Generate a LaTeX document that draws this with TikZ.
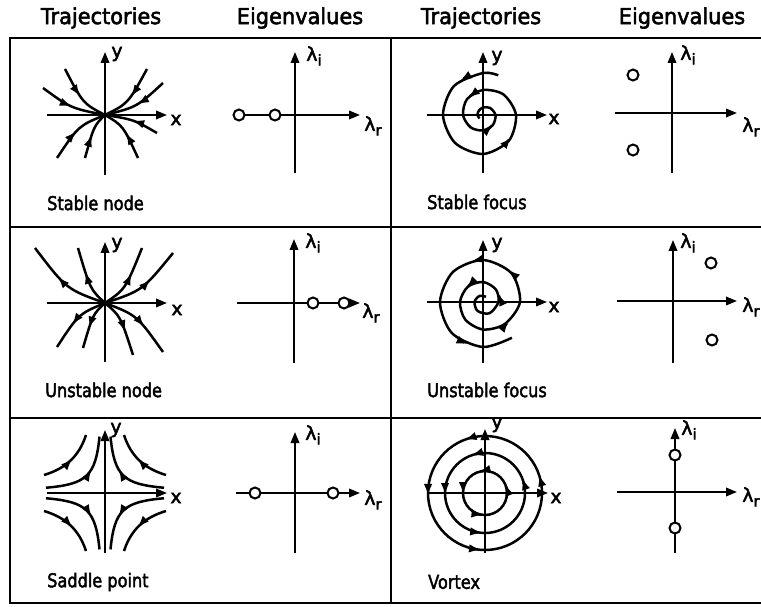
\documentclass[tikz,border=0pt]{standalone}
\usepackage{fontspec}
\setmainfont[FakeBold=2.4]{DejaVu Sans}
\usetikzlibrary{arrows.meta,decorations.markings}
\newcommand\lamsub[1]{λ\raisebox{-0.45ex}{\fontsize{15}{15}\selectfont #1}}
\newcommand\condtext[2]{\scalebox{#1}[1]{#2}}
\begin{document}
\begin{tikzpicture}[x=1pt,y=1pt,
  frame/.style={line width=2.3pt},
  axis/.style={line width=2pt,-{Triangle[length=11pt,width=8.5pt]}},
  traj/.style={line width=2.5pt},
  tip/.style={line width=2.5pt,-{Latex[length=12pt,width=8.5pt]}},
  midarrow/.style={traj,postaction={decorate},decoration={markings,mark=at position #1 with {\arrow{Latex[length=12pt,width=8.5pt]}}}},
  eig/.style={circle,draw,line width=2pt,fill=white,inner sep=0pt,minimum size=11pt},
  hdr/.style={font=\fontsize{22}{26}\selectfont,inner sep=0pt},
  lbl/.style={font=\fontsize{19}{22}\selectfont,anchor=west,inner sep=0pt},
  axl/.style={font=\fontsize{19}{22}\selectfont,inner sep=0pt},
]
\useasboundingbox (0,0) rectangle (761,606);
% headers
\node[hdr] (h1) at (101,588) {\condtext{0.95}{Trajectories}};
\node[hdr] (h2) at (300,588) {\condtext{0.95}{Eigenvalues}};
\node[hdr] (h3) at (481,588) {\condtext{0.95}{Trajectories}};
\node[hdr] (h4) at (682,588) {\condtext{0.95}{Eigenvalues}};
% frame
\draw[frame] (761,568) -- (10,568) -- (10,3) -- (761,3);
\draw[frame] (10,379) -- (761,379);
\draw[frame] (10,188) -- (761,188);
\draw[frame] (391,568) -- (391,3);

% ---------- Stable node
\begin{scope}[shift={(105,491)}]
  \draw[axis] (-58,0) -- (62,0);
  \draw[axis] (0,-60) -- (0,63);
  \node[axl] (c1x) at (71,-5) {x};
  \node[axl] (c1y) at (12,61) {y};
  \foreach \a/\b in {-40/46,-62/27,42/46,58/32,52/-18,33/-43,-20/-43,-48/-43}
    \draw[midarrow=0.5] (\a,\b) .. controls ({0.55*\a},{0.25*\b}) .. (0,0);
\end{scope}
\node[lbl] (l1) at (47,403) {\condtext{0.85}{Stable node}};

% ---------- Eigen 1
\begin{scope}[shift={(295,491)}]
  \draw[axis] (-56,0) -- (65,0);
  \draw[axis] (0,-58) -- (0,63);
  \node[eig] (e1a) at (-56,0) {};
  \node[eig] (e1b) at (-20,0) {};
  \node[axl] (e1i) at (19,59) {\lamsub{i}};
  \node[axl] (e1r) at (78,-11) {\lamsub{r}};
\end{scope}

% ---------- Stable focus
\begin{scope}[shift={(483,491)}]
  \draw[axis] (-56,0) -- (64,0);
  \draw[axis] (0,-58) -- (0,63);
  \node[axl] (c2x) at (71,-4) {x};
  \node[axl] (c2y) at (14,57) {y};
  \draw[traj] plot[smooth] coordinates {(69:42.5) (90:42) (135:41) (180:40) (225:39.5) (270:39) (315:36.5) (360:33) (405:29) (450:25) (495:22.5) (540:20) (585:17.5) (630:15.5) (675:14) (720:12.5) (765:10) (810:7.5) (855:6) (900:5.5) (945:5)};
  \foreach \t/\r in {124/41.2,322/36,491/22.7,675/14}
    \draw[tip] ({\t-6}:\r) -- (\t:\r);
\end{scope}
\node[lbl] (l2) at (427,404) {\condtext{0.85}{Stable focus}};

% ---------- Eigen 2
\begin{scope}[shift={(672,493)}]
  \draw[axis] (-57,0) -- (65,0);
  \draw[axis] (0,-60) -- (0,61);
  \node[eig] (e2a) at (-39,38) {};
  \node[eig] (e2b) at (-39,-37) {};
  \node[axl] (e2i) at (16,58) {\lamsub{i}};
  \node[axl] (e2r) at (79,-14) {\lamsub{r}};
\end{scope}

% ---------- Unstable node
\begin{scope}[shift={(105,303)}]
  \draw[axis] (-58,0) -- (62,0);
  \draw[axis] (0,-59) -- (0,61);
  \node[axl] (c3x) at (72,-7) {x};
  \node[axl] (c3y) at (12,58) {y};
  \foreach \a/\b in {-70/55,-27/55,37/55,68/50,-48/-44,-22/-45,28/-52,58/-49}
    \draw[midarrow=0.6] (0,0) .. controls ({0.55*\a},{0.25*\b}) .. (\a,\b);
\end{scope}
\node[lbl] (l3) at (45,216) {\condtext{0.85}{Unstable node}};

% ---------- Eigen 3
\begin{scope}[shift={(294,303)}]
  \draw[axis] (-57,0) -- (66,0);
  \draw[axis] (0,-60) -- (0,64);
  \node[eig] (e3a) at (19,0) {};
  \node[eig] (e3b) at (50,0) {};
  \node[axl] (e3i) at (19,60) {\lamsub{i}};
  \node[axl] (e3r) at (77,-10) {\lamsub{r}};
\end{scope}

% ---------- Unstable focus
\begin{scope}[shift={(483,304)}]
  \draw[axis] (-56,0) -- (64,0);
  \draw[axis] (0,-61) -- (0,62);
  \node[axl] (c4x) at (71,-5) {x};
  \node[axl] (c4y) at (14,57) {y};
  \draw[traj] plot[smooth] coordinates {(-300:6) (-240:7) (-180:8.5) (-120:10.5) (-60:13) (0:15.5) (45:18) (90:20) (135:21.5) (180:23) (225:25) (270:27.5) (315:31) (360:37) (405:40.5) (450:42) (495:42.5) (540:43) (585:44) (630:45) (669:46)};
  \foreach \t/\r in {28/17,139/21.6,324/32,412/40.8,466/42.2,611/44.6}
    \draw[tip] ({\t-6}:\r) -- (\t:\r);
\end{scope}
\node[lbl] (l4) at (427,216) {\condtext{0.85}{Unstable focus}};

% ---------- Eigen 4
\begin{scope}[shift={(673,305)}]
  \draw[axis] (-56,0) -- (64,0);
  \draw[axis] (0,-62) -- (0,61);
  \node[eig] (e4a) at (38,38) {};
  \node[eig] (e4b) at (39,-39) {};
  \node[axl] (e4i) at (15,58) {\lamsub{i}};
  \node[axl] (e4r) at (78,-6) {\lamsub{r}};
\end{scope}

% ---------- Saddle point
\begin{scope}[shift={(105,113)}]
  \draw[axis] (-58,0) -- (62,0);
  \draw[axis] (0,-60) -- (0,63);
  \node[axl] (c5x) at (71,-5) {x};
  \node[axl] (c5y) at (11,63) {y};
  \foreach \sx/\sy in {-1/1,1/1,-1/-1,1/-1}{
    \begin{scope}[xscale=\sx,yscale=\sy]
      \draw[midarrow=0.55] (61,18) .. controls (39,24.6) and (25.8,37) .. (19,58);
      \draw[midarrow=0.6] (59,5.25) .. controls (19,8.8) and (9.4,16.4) .. (5.5,56.4);
    \end{scope}
  }
\end{scope}
\node[lbl] (l5) at (47,24) {\condtext{0.85}{Saddle point}};

% ---------- Eigen 5
\begin{scope}[shift={(295,113)}]
  \draw[axis] (-59,0) -- (65,0);
  \draw[axis] (0,-60) -- (0,61);
  \node[eig] (e5a) at (-40,0) {};
  \node[eig] (e5b) at (38,0) {};
  \node[axl] (e5i) at (18,58) {\lamsub{i}};
  \node[axl] (e5r) at (78,-7) {\lamsub{r}};
\end{scope}

% ---------- Vortex
\begin{scope}[shift={(485,113)}]
  \draw[axis] (-57,0) -- (63,0);
  \draw[axis] (0,-60) -- (0,64);
  \node[axl] (c6x) at (71,-5) {x};
  \node[axl] (c6y) at (12,68) {y};
  \foreach \r in {57,40,22} \draw[traj] (0,0) circle[radius=\r];
  \foreach \t/\r in {111/57,183/57,266/57,19/57,110/40,183/40,266/40,22/40,107/22,183/22,266/22,24/22}
    \draw[tip] ({\t-6}:\r) -- (\t:\r);
\end{scope}
\node[lbl] (l6) at (428,24) {\condtext{0.85}{Vortex}};

% ---------- Eigen 6
\begin{scope}[shift={(675,114)}]
  \draw[axis] (-58,0) -- (62,0);
  \draw[axis] (0,-61) -- (0,64);
  \node[eig] (e6a) at (0,37) {};
  \node[eig] (e6b) at (0,-36) {};
  \node[axl] (e6i) at (14,62) {\lamsub{i}};
  \node[axl] (e6r) at (76,-5) {\lamsub{r}};
\end{scope}
\end{tikzpicture}
\end{document}
